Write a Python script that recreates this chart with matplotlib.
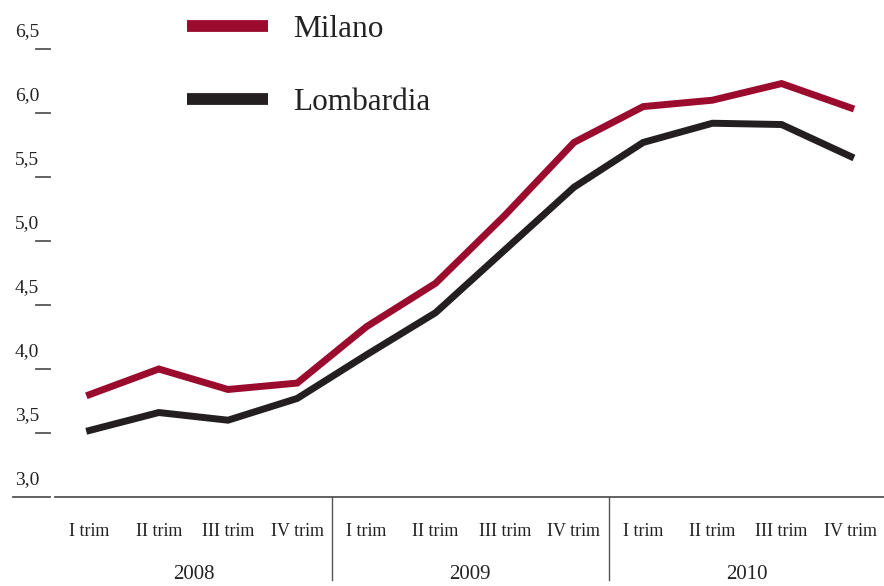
import matplotlib
matplotlib.use("Agg")
import matplotlib.pyplot as plt
import matplotlib.transforms as mtransforms

plt.rcParams['font.family'] = ['Liberation Serif', 'DejaVu Serif']

# data
quarters = ['I trim', 'II trim', 'III trim', 'IV trim'] * 3
years = ['2008', '2009', '2010']
milano = [3.80, 4.00, 3.84, 3.89, 4.33, 4.67, 5.20, 5.77, 6.05, 6.10, 6.23, 6.04]
lombardia = [3.52, 3.66, 3.60, 3.77, 4.11, 4.44, 4.93, 5.42, 5.77, 5.92, 5.91, 5.66]
yticks = [3.0, 3.5, 4.0, 4.5, 5.0, 5.5, 6.0, 6.5]

W, H = 884, 586
fig = plt.figure(figsize=(W / 100, H / 100), dpi=100)
ax = fig.add_axes([55 / W, 1 - 497 / H, 829 / W, 497 / H])

x = list(range(len(quarters)))
red = '#9a0b2d'
black = '#231f20'
grey = '#555555'

l1, = ax.plot(x, milano, color=red, lw=5, solid_joinstyle='miter', label='Milano')
l2, = ax.plot(x, lombardia, color=black, lw=5, solid_joinstyle='miter', label='Lombardia')

ax.set_xlim(-0.5, 11.48)
ax.set_ylim(3.0, 3.0 + 497 / 128)

for s in ['top', 'right', 'left']:
    ax.spines[s].set_visible(False)
ax.spines['bottom'].set_color(grey)
ax.spines['bottom'].set_linewidth(1.3)

# x tick labels
ax.set_xticks(x)
ax.set_xticklabels(quarters, fontsize=13, color='#222222')
ax.tick_params(axis='x', length=0, pad=19)
ax.set_yticks([])

# year separators and year labels
xform = mtransforms.blended_transform_factory(ax.transData, ax.transAxes)
for sep in [3.5, 7.5]:
    ax.plot([sep, sep], [0, -83 / 497], transform=xform, color=grey, lw=1.0, clip_on=False)
for i, yr in enumerate(years):
    ax.text(1.5 + 4 * i, -87 / 497, yr, transform=xform, ha='center', va='bottom',
            fontsize=15, color='#222222')

# y labels sitting above short dashes
yform = mtransforms.blended_transform_factory(fig.transFigure, ax.transData)
for v in yticks:
    x0 = 13 if v == 3.0 else 36
    ax.plot([x0 / W, 50 / W], [v, v], transform=yform, color=grey, lw=1.3, clip_on=False)
    lab = f'{v:.1f}'.replace('.', ',')
    t = mtransforms.offset_copy(yform, fig=fig, x=0, y=9, units='points')
    ax.text(27 / W, v, lab, transform=t, ha='center', va='baseline',
            fontsize=14, color='#222222')

# legend
leg = ax.legend(handles=[l1, l2], loc='upper left', bbox_to_anchor=(187 / W, 1 - 15 / H),
                bbox_transform=fig.transFigure, frameon=False, fontsize=22.5,
                handlelength=2.59, handletextpad=0.8, labelspacing=1.40,
                borderpad=0, borderaxespad=0)
for h in leg.legend_handles:
    h.set_linewidth(8.5)
    h.set_solid_capstyle('butt')
for t in leg.get_texts():
    t.set_color('#222222')

fig.savefig('out.png', dpi=100)
